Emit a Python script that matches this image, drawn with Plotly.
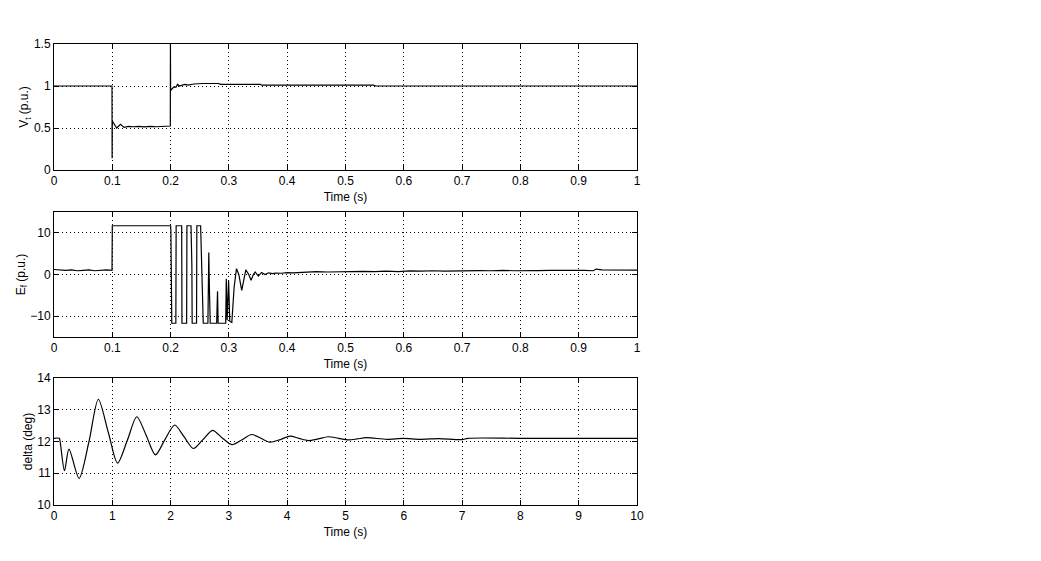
import plotly.graph_objects as go

# ---- Terminal voltage Vt (p.u.) ----
t_vt = [0.0, 0.0995, 0.0997, 0.1, 0.1075, 0.114, 0.12, 0.128, 0.136, 0.145, 0.155, 0.165,
        0.175, 0.185, 0.1995, 0.1997, 0.2, 0.203, 0.206, 0.209, 0.212, 0.215, 0.219, 0.224,
        0.230, 0.240, 0.256, 0.282, 0.286, 0.354, 0.356, 0.548, 0.552, 1.0]
vt = [1.0, 1.0, 0.14, 0.583, 0.50, 0.544, 0.508, 0.52, 0.515, 0.52, 0.513, 0.52,
      0.515, 0.522, 0.524, 1.5, 0.944, 0.97, 0.99, 0.985, 1.02, 1.0, 1.01, 1.02,
      1.01, 1.024, 1.03, 1.03, 1.02, 1.02, 1.01, 1.01, 1.0, 1.0]

# ---- Field voltage Ef (p.u.) ----
t_ef = [0.0, 0.01, 0.02, 0.03, 0.04, 0.05, 0.06, 0.07, 0.08, 0.09, 0.0995, 0.1,
        0.2, 0.2005, 0.202, 0.209, 0.2095, 0.219, 0.2195, 0.2275, 0.228, 0.235, 0.2365, 0.237,
        0.2445, 0.245, 0.2515, 0.2535, 0.256, 0.264, 0.2655, 0.2665, 0.268, 0.279, 0.2805, 0.2815,
        0.2945, 0.2955, 0.297, 0.2995, 0.3015, 0.305, 0.309, 0.313, 0.317, 0.322, 0.3255, 0.329,
        0.334, 0.338, 0.342, 0.345, 0.3505, 0.356, 0.362, 0.368, 0.375, 0.38, 0.39, 0.40,
        0.41, 0.42, 0.43, 0.44, 0.45, 0.47, 0.49, 0.51, 0.53, 0.55, 0.57, 0.59, 0.61, 0.63,
        0.65, 0.67, 0.69, 0.71, 0.73, 0.75, 0.77, 0.79, 0.81, 0.83, 0.85, 0.87, 0.89, 0.91,
        0.925, 0.93, 0.94, 0.96, 0.98, 1.0]
ef = [1.2, 1.1, 1.0, 1.1, 0.9, 1.0, 1.1, 0.9, 1.0, 1.1, 1.0, 11.7,
      11.7, 10.5, -11.7, -11.7, 11.7, 11.7, -11.7, -11.7, 11.7, 11.7, 2.0, -11.7,
      -11.7, 11.7, 11.7, 0.0, -11.7, -11.7, 5.3, -3.0, -11.7, -11.7, -4.0, -11.7,
      -11.7, -1.0, -11.0, -1.5, -11.2, -11.5, -3.0, 1.4, 0.0, -3.8, -1.0, 1.1,
      0.0, -1.4, 0.0, 0.6, -0.4, 0.5, 0.0, 0.4, 0.2, 0.35, 0.3, 0.45,
      0.4, 0.5, 0.45, 0.6, 0.7, 0.6, 0.7, 0.65, 0.75, 0.7, 0.8, 0.7, 0.85, 0.8,
      0.9, 0.8, 0.9, 0.85, 0.95, 0.9, 1.0, 0.9, 1.0, 0.95, 1.0, 1.05, 0.95, 1.0,
      0.9, 1.3, 1.1, 1.05, 1.1, 1.05]

# ---- Rotor angle delta (deg) ----
t_d = [0.0, 0.09, 0.105, 0.18, 0.257, 0.43, 0.6, 0.76, 0.93, 1.09, 1.26, 1.42, 1.58,
       1.74, 1.9, 2.07, 2.23, 2.39, 2.55, 2.72, 2.88, 3.05, 3.22, 3.39, 3.55, 3.70,
       3.88, 4.05, 4.2, 4.36, 4.53, 4.70, 4.88, 5.05, 5.2, 5.36, 5.71, 5.99, 6.28,
       6.6, 7.0, 7.1, 8.0, 9.0, 10.0]
delta = [12.1, 12.1, 12.0, 11.08, 11.76, 10.84, 12.0, 13.33, 12.3, 11.32, 12.05, 12.78, 12.2,
         11.58, 12.05, 12.52, 12.15, 11.78, 12.05, 12.35, 12.12, 11.9, 12.05, 12.22, 12.1, 11.98,
         12.06, 12.17, 12.1, 12.03, 12.08, 12.15, 12.1, 12.05, 12.08, 12.12, 12.07, 12.1, 12.07,
         12.09, 12.06, 12.1, 12.1, 12.1, 12.1]

x_label = "Time (s)"
y_labels = ["V<sub>t</sub> (p.u.)", "E<sub>f</sub> (p.u.)", "delta (deg)"]

FONT = "Liberation Sans, Arial, Helvetica, sans-serif"
FS = 12

fig = go.Figure()
fig.add_trace(go.Scatter(x=t_vt, y=vt, mode="lines", line=dict(color="black", width=1.2),
                         xaxis="x", yaxis="y", showlegend=False))
fig.add_trace(go.Scatter(x=t_ef, y=ef, mode="lines", line=dict(color="black", width=1.2),
                         xaxis="x2", yaxis="y2", showlegend=False))
fig.add_trace(go.Scatter(x=t_d, y=delta, mode="lines",
                         line=dict(color="black", width=1.2, shape="spline", smoothing=0.8),
                         xaxis="x3", yaxis="y3", showlegend=False))

# the page body adds an 8px margin, so the figure is drawn 8px in from the window edge
OFF = 8
H = 461.0
def dom(top, bottom):
    return [(505 - bottom) / H, (505 - top) / H]

common_axis = dict(showline=True, linecolor="black", linewidth=1, mirror="ticks",
                   ticks="inside", ticklen=5, tickcolor="black", showgrid=True,
                   gridcolor="black", griddash="1px,3px", gridwidth=1, zeroline=False,
                   automargin=False,
                   tickfont=dict(family=FONT, size=FS, color="black"))

fig.update_layout(
    width=1041 - 2 * OFF, height=561 - 2 * OFF,
    paper_bgcolor="white", plot_bgcolor="white",
    margin=dict(l=54 - OFF, r=404 - OFF, t=44 - OFF, b=56 - OFF),
    font=dict(family=FONT, size=FS, color="black"),
    xaxis=dict(domain=[0, 1], anchor="y", range=[0, 1], dtick=0.1,
               title=dict(text=x_label, standoff=5, font=dict(size=FS)), **common_axis),
    yaxis=dict(domain=dom(44, 170), anchor="x", range=[0, 1.5], dtick=0.5,
               title=dict(text=y_labels[0], standoff=2, font=dict(size=FS)), **common_axis),
    xaxis2=dict(domain=[0, 1], anchor="y2", range=[0, 1], dtick=0.1,
                title=dict(text=x_label, standoff=5, font=dict(size=FS)), **common_axis),
    yaxis2=dict(domain=dom(212, 337), anchor="x2", range=[-15, 15], dtick=10,
                title=dict(text=y_labels[1], standoff=2, font=dict(size=FS)), **common_axis),
    xaxis3=dict(domain=[0, 1], anchor="y3", range=[0, 10], dtick=1,
                title=dict(text=x_label, standoff=5, font=dict(size=FS)), **common_axis),
    yaxis3=dict(domain=dom(378, 505), anchor="x3", range=[10, 14], dtick=1,
                title=dict(text=y_labels[2], standoff=2, font=dict(size=FS)), **common_axis),
)

fig.write_html("out.html")
